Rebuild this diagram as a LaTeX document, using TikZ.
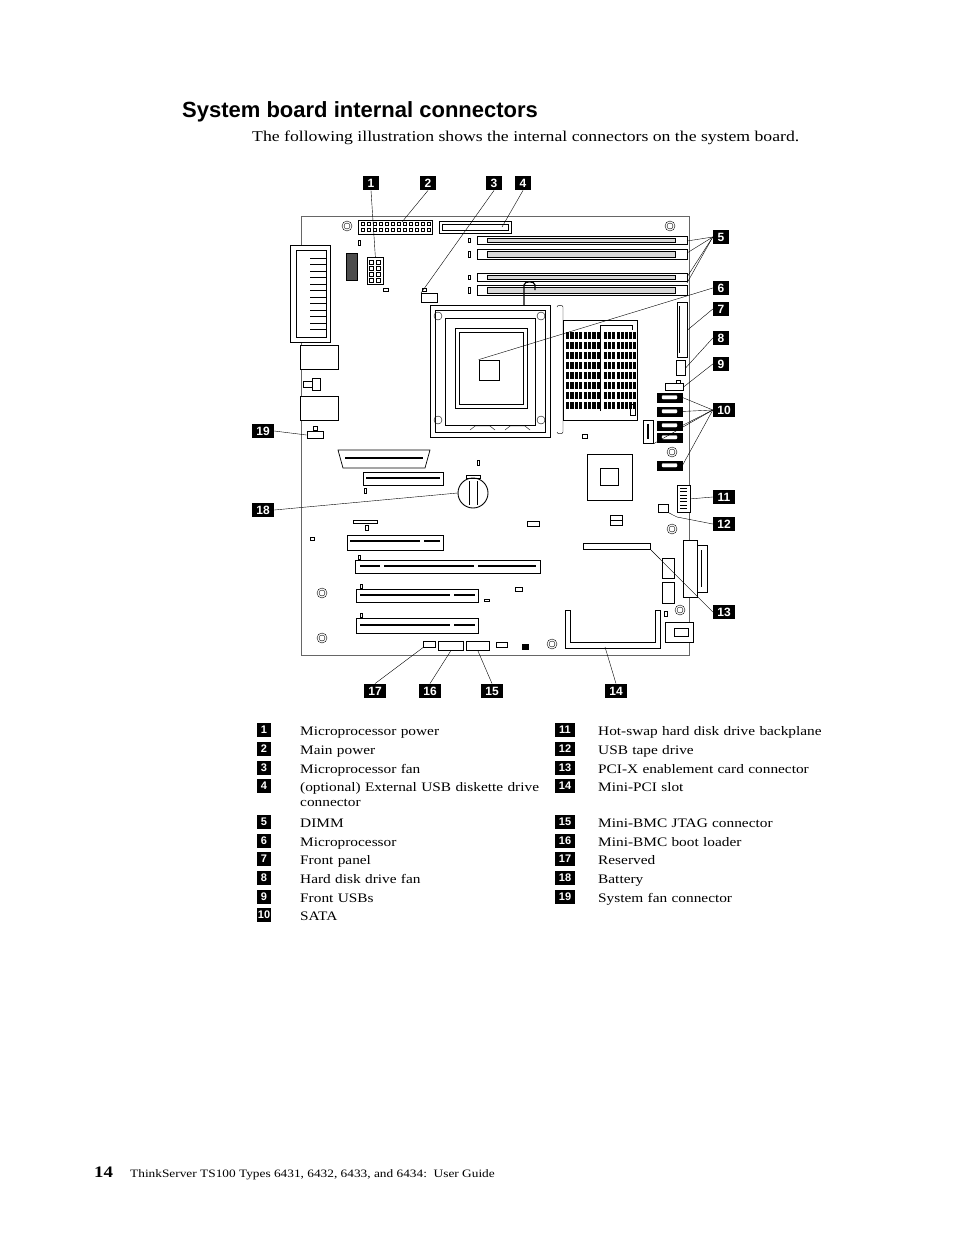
\documentclass[tikz,border=0pt]{standalone}
\usepackage{fontspec}
\setmainfont{Liberation Serif}[FakeStretch=1.18]
\setsansfont{Liberation Sans}
\begin{document}
\begin{tikzpicture}[x=1pt,y=-1pt,
 lbl/.style={fill=black,text=white,font=\sffamily\bfseries\fontsize{12}{12}\selectfont,minimum height=14.5pt,minimum width=16pt,inner sep=0.3pt},
 lead/.style={draw=black,line width=0.4pt},
 part/.style={draw=black,line width=0.7pt,fill=white},
 thin/.style={draw=black,line width=0.4pt},
 leg/.style={anchor=base west,font=\fontsize{13}{15}\selectfont,inner sep=0pt,text width=240pt,align=left}]
\useasboundingbox (0,0) rectangle (954,1235);
% title
\node[anchor=base west,inner sep=0pt,font=\sffamily\bfseries\fontsize{22}{24}\selectfont] (title) at (182,117) {System board internal connectors};
\node[anchor=base west,inner sep=0pt,font=\fontsize{15}{17}\selectfont] (intro) at (252,141) {The following illustration shows the internal connectors on the system board.};
% board
\draw[line width=0.5pt,draw=black!60] (301,216) rectangle (689,655);
% holes
\foreach \p in {(347,226),(670,226),(322,593),(322,638),(552,644),(672,529),(680,610),(672,452)}
 {\draw[thin] \p circle (5); \draw[thin] \p circle (3);}
% main power
\node[part,minimum width=74pt,minimum height=14pt,inner sep=0pt,anchor=north west] (mainpw) at (358,220) {};
\foreach \i in {0,...,11}{\draw[thin] (361+\i*6,222) rectangle +(3.5,3.5); \draw[thin] (361+\i*6,228) rectangle +(3.5,3.5);}
% diskette
\node[part,minimum width=72pt,minimum height=12pt,inner sep=0pt,anchor=north west] (disk) at (439,221) {};
\draw[thin] (442,224) rectangle (508,230);
% DIMMs
\foreach \y/\h in {236/8,249/10,273/8,285/10}{
 \draw[part] (477,\y) rectangle (687,\y+\h);
 \draw[thin,fill=black!15] (487,\y+2) rectangle (675,\y+\h-2);
 \draw[line width=1pt] (477,\y) -- (477,\y+\h) (687,\y)--(687,\y+\h);
 \draw[thin] (468,\y+2) rectangle (470,\y+\h-2);}
\coordinate (d1) at (687,241); \coordinate (d2) at (687,253);
\coordinate (d3) at (687,277); \coordinate (d4) at (687,283);
% parallel port
\draw[part] (290,245) rectangle (330,342);
\draw[thin] (296,250) rectangle (326,337);
\foreach \i in {0,...,11}{\draw[line width=1pt] (310,258+\i*6.5) -- (326,258+\i*6.5);}
% usb/ethernet
\draw[part] (300,345) rectangle (338,369);
\draw[part] (300,396) rectangle (338,420);
\draw[thin] (303,381) rectangle (312,387); \draw[thin] (312,378) rectangle (320,390);
% fan 19
\node[part,minimum width=16pt,minimum height=7pt,inner sep=0pt] (fan19) at (315,435) {};
\draw[thin] (313,426) rectangle (317,430);
% CPU power
\node[part,minimum width=16pt,minimum height=27pt,inner sep=0pt,anchor=north west] (cpupw) at (367,257) {};
\foreach \i in {0,...,3}{\draw[thin] (369,260+\i*6) rectangle +(4,4); \draw[thin] (376,260+\i*6) rectangle +(4,4);}
\draw[part,fill=black!70] (346,253) rectangle (357,280);
\draw[thin] (358,240) rectangle (360,245); \draw[thin] (383,288) rectangle (388,291);
% CPU fan 3
\node[part,minimum width=16pt,minimum height=9pt,inner sep=0pt,anchor=north west] (cpufan) at (421,293) {};
\draw[thin] (422,288) rectangle (426,291);
% CPU socket
\draw[part,line width=1pt] (430,305) rectangle (550,437);
\draw[thin] (435,310) rectangle (545,432);
\draw[thin] (445,318) rectangle (535,425);
\draw[part] (455,328) rectangle (527,408);
\draw[thin] (459,332) rectangle (523,404);
\node[part,minimum width=20pt,minimum height=20pt,inner sep=0pt] (cpu) at (489,370) {};
\foreach \p in {(438,316),(541,316),(438,420),(541,420)}{\draw[thin] \p circle (4);}
\draw[line width=1.2pt] (524,305) -- (524,285) to[out=90,in=90] (535,285) -- (535,290);
\draw[thin] (557,307) to[out=90,in=90] (563,307) -- (563,432) to[out=-90,in=-90] (557,432);
\draw[thin] (470,430) -- (475,426) -- (490,426) -- (495,430) (505,430) -- (510,426) -- (525,426) -- (530,430);
% heatsink
\draw[thin] (563,320) rectangle (637,420);
\foreach \c in {0,...,7}{\foreach \r in {0,...,7}{
  \fill (566+\c*4.4,332+\r*10) rectangle +(3.2,7);
  \fill (604+\c*4.2,332+\r*10) rectangle +(3,7);}}
\draw[thin] (600,411) -- (600,325) -- (632,325) -- (632,330);
\draw[thin] (630,404) rectangle (635,415);
\draw[thin] (582,434) rectangle (587,438);
% front panel 7
\node[part,minimum width=10pt,minimum height=55pt,inner sep=0pt,anchor=north west] (fp) at (677,302) {};
\draw[thin] (679,306) -- (679,353);
% hdd fan 8
\node[part,minimum width=9pt,minimum height=15pt,inner sep=0pt,anchor=north west] (hddfan) at (676,360) {};
% front usb 9
\node[part,minimum width=18pt,minimum height=7pt,inner sep=0pt,anchor=north west] (fusb) at (665,383) {};
\draw[thin] (676,380) rectangle (680,383);
% SATA
\foreach \n/\y in {s1/393,s2/407,s3/421,s4/433,s6/461}{
 \node[draw=black,fill=black,minimum width=25pt,minimum height=8.5pt,inner sep=0pt,anchor=north west] (\n) at (657,\y) {};
 \draw[white,fill=white,rounded corners=1pt] (662,\y+2.5) rectangle (677,\y+6);}
\node[draw=black,fill=white,line width=0.7pt,minimum width=10pt,minimum height=23pt,inner sep=0pt,anchor=north west] (s5) at (643,420) {};
\draw[line width=1.5pt] (648,424) -- (648,439);
% chipset
\draw[thin] (587,454) rectangle (632,500);
\draw[thin] (600,468) rectangle (618,485);
\draw[thin] (610,515) rectangle (622,525); \draw[thin] (610,520) -- (622,520);
% 11 & 12
\node[part,minimum width=13pt,minimum height=27pt,inner sep=0pt,anchor=north west] (hs) at (677,485) {};
\foreach \i in {0,...,6}{\draw[thin] (680,488+\i*3.4) -- (687,488+\i*3.4);}
\node[part,line width=0.9pt,minimum width=10pt,minimum height=8pt,inner sep=0pt,anchor=north west] (usbtape) at (658,504) {};
% PCI slots
\draw[part] (338,450) -- (430,450) -- (425,468) -- (343,468) -- cycle;
\draw[line width=1.2pt] (345,458) -- (423,458);
\draw[part] (363,472) rectangle (443,485); \draw[line width=1.2pt] (366,478) -- (440,478);
\draw[thin] (364,488) rectangle (366,493); \draw[thin] (477,460) rectangle (479,465);
\node[draw=black,line width=0.9pt,circle,minimum size=30pt,inner sep=0pt] (batt) at (473,493) {};
\draw[thin] (469,481) -- (469,505) (477,481) -- (477,505);
\draw[thin] (466,475) rectangle (480,478);
\draw[part] (353,520) rectangle (377,523); \draw[thin] (365,525) rectangle (368,530);
\draw[thin] (310,537) rectangle (314,540); \draw[thin] (527,521) rectangle (539,526);
\draw[part] (347,535) rectangle (443,550); \draw[line width=1.2pt] (350,541) -- (420,541) (424,541) -- (440,541);
\draw[thin] (358,555) rectangle (360,559);
\draw[part] (355,560) rectangle (540,573);
\draw[line width=1.4pt] (360,566) -- (380,566) (384,566) -- (474,566) (478,566) -- (536,566);
\draw[thin] (360,584) rectangle (362,588); \draw[thin] (515,587) rectangle (522,591);
\draw[part] (356,589) rectangle (478,602); \draw[line width=1.4pt] (360,595) -- (450,595) (454,595) -- (475,595);
\draw[thin] (484,599) rectangle (489,601);
\draw[thin] (360,613) rectangle (362,617);
\draw[part] (356,618) rectangle (478,633); \draw[line width=1.4pt] (360,625) -- (450,625) (454,625) -- (475,625);
% mini-pci connector 13
\node[draw=black,line width=1pt,minimum width=67pt,minimum height=6pt,inner sep=0pt,anchor=north west] (minipcic) at (583,543) {};
% power connector right
\draw[part] (683,540) rectangle (697,597); \draw[thin] (697,545) -- (707,545) -- (707,592) -- (697,592);
\draw[thin] (701,550) -- (701,587);
\draw[thin] (662,558) rectangle (674,578); \draw[thin] (662,582) rectangle (674,603);
% mini pci slot 14
\draw[part] (565,610) -- (565,648) -- (660,648) -- (660,610) -- (655,610) -- (655,642) -- (570,642) -- (570,610) -- cycle;
\coordinate (slot14) at (605,647);
\draw[thin] (664,611) rectangle (667,616);
\draw[part] (665,622) rectangle (693,642); \draw[thin] (674,628) rectangle (688,636);
% bottom headers
\node[draw=black,line width=0.6pt,minimum width=12pt,minimum height=6pt,inner sep=0pt,anchor=north west] (rsv) at (423,641) {};
\node[part,minimum width=25pt,minimum height=9pt,inner sep=0pt,anchor=north west] (boot) at (438,641) {};
\node[part,minimum width=23pt,minimum height=9pt,inner sep=0pt,anchor=north west] (jtag) at (466,641) {};
\draw[thin] (496,642) rectangle (507,647);
\fill (522,644) rectangle (529,650);
% labels
\node[lbl] (L1) at (371,183) {1}; \node[lbl] (L2) at (428,183) {2};
\node[lbl] (L3) at (494,183) {3}; \node[lbl] (L4) at (523,183) {4};
\node[lbl] (L5) at (721,237) {5}; \node[lbl] (L6) at (721,288) {6};
\node[lbl] (L7) at (721,309) {7}; \node[lbl] (L8) at (721,338) {8};
\node[lbl] (L9) at (721,364) {9}; \node[lbl,minimum width=22pt] (L10) at (724,410) {10};
\node[lbl,minimum width=22pt] (L11) at (724,497) {11}; \node[lbl,minimum width=22pt] (L12) at (724,524) {12};
\node[lbl,minimum width=22pt] (L13) at (724,612) {13}; \node[lbl,minimum width=22pt] (L14) at (616,691) {14};
\node[lbl,minimum width=22pt] (L15) at (492,691) {15}; \node[lbl,minimum width=22pt] (L16) at (430,691) {16};
\node[lbl,minimum width=22pt] (L17) at (375,691) {17}; \node[lbl,minimum width=22pt] (L18) at (263,510) {18};
\node[lbl,minimum width=22pt] (L19) at (263,431) {19};
% leaders
\draw[lead] (L1.south) -- (cpupw.north);
\draw[lead] (L2.south) -- (402,222);
\draw[lead] (L3.south) -- (cpufan.north west);
\draw[lead] (L4.south) -- (502,227);
\foreach \d in {d1,d2,d3,d4}{\draw[lead] (L5.west) -- (\d);}
\draw[lead] (L6.west) -- (cpu.north west);
\draw[lead] (L7.west) -- (fp.east);
\draw[lead] (L8.west) -- (hddfan.east);
\draw[lead] (L9.west) -- (fusb.east);
\foreach \s in {s1,s2,s3,s6}{\draw[lead] (L10.west) -- (\s.east);}
\draw[lead] (L10.west) -- (s5.south east);
\draw[lead] (L11.west) -- (hs.east);
\draw[lead] (L12.west) -- (677,517) -- (usbtape.south east);
\draw[lead] (L13.west) -- (minipcic.south east);
\draw[lead] (L14.north) -- (slot14);
\draw[lead] (L15.north) -- (jtag.south);
\draw[lead] (L16.north) -- (boot.south);
\draw[lead] (L17.north) -- (rsv.south west);
\draw[lead] (L18.east) -- (batt.west);
\draw[lead] (L19.east) -- (fan19.west);
% legend
\foreach \n/\y/\t in {1/730/Microprocessor power,2/749/Main power,3/768/Microprocessor fan,4/786/{(optional) External USB diskette drive connector},5/822/DIMM,6/841/Microprocessor,7/859/Front panel,8/878/Hard disk drive fan,9/897/Front USBs,10/915/SATA}{
 \node[lbl,minimum width=14pt,minimum height=14pt,font=\sffamily\bfseries\fontsize{11}{11}\selectfont] (K\n) at (264,\y) {\n};
 \node[leg,text width=243pt] (T\n) at (300,\y+5) {\t};}
\foreach \n/\y/\t in {11/730/Hot-swap hard disk drive backplane,12/749/USB tape drive,13/768/PCI-X enablement card connector,14/786/Mini-PCI slot,15/822/Mini-BMC JTAG connector,16/841/Mini-BMC boot loader,17/859/Reserved,18/878/Battery,19/897/System fan connector}{
 \node[lbl,minimum width=20pt,minimum height=14pt,font=\sffamily\bfseries\fontsize{11}{11}\selectfont] (K\n) at (565,\y) {\n};
 \node[leg] (T\n) at (598,\y+5) {\t};}
% footer
\node[anchor=base west,inner sep=0pt,font=\bfseries\fontsize{16}{18}\selectfont] (pg) at (94,1177) {14};
\node[anchor=base west,inner sep=0pt,font=\fontsize{11.3}{13}\selectfont] (foot) at (130,1177) {ThinkServer TS100 Types 6431, 6432, 6433, and 6434:\ \ User Guide};
\end{tikzpicture}
\end{document}
